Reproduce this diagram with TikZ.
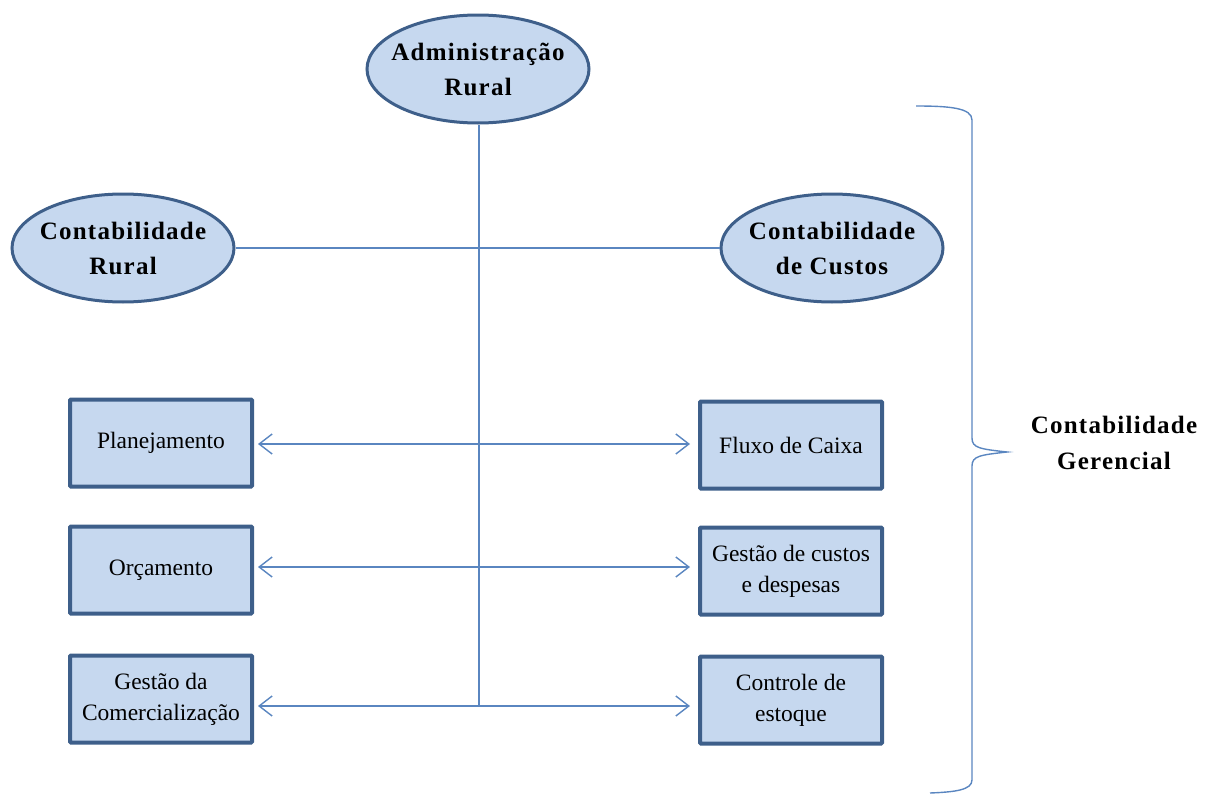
\documentclass[tikz,border=0pt]{standalone}
\usepackage{fontspec}
\setmainfont{Liberation Serif}
\usetikzlibrary{arrows.meta,shapes.geometric}
\definecolor{edge}{HTML}{3E5F8A}
\definecolor{fillblue}{HTML}{C6D8EF}
\definecolor{link}{HTML}{5A86C0}
\tikzset{
  topic/.style={ellipse, draw=edge, fill=fillblue, line width=3pt,
    minimum width=222pt, minimum height=108pt, inner xsep=-20pt, inner ysep=0pt,
    align=center,
    font=\fontsize{25}{35}\selectfont\bfseries\addfontfeature{LetterSpace=5}},
  task/.style={rectangle, draw=edge, fill=fillblue, line width=4pt,
    rounded corners=1pt, minimum width=182pt, minimum height=87pt,
    inner sep=0pt, align=center, font=\fontsize{23.5}{31}\selectfont},
  conn/.style={draw=link, line width=1.4pt},
  twoway/.style={conn, {Straight Barb[length=13pt,width=20pt]}-{Straight Barb[length=13pt,width=20pt]}},
  note/.style={align=center, font=\fontsize{25}{36}\selectfont\bfseries\addfontfeature{LetterSpace=5}}
}
\begin{document}
\begin{tikzpicture}[x=1pt,y=-1pt]
\useasboundingbox (0,0) rectangle (1211,795);

% main areas
\node[topic] (adm) at (478,69) {Administração\\Rural};
\node[topic] (crural) at (123,248) {Contabilidade\\Rural};
\node[topic] (ccustos) at (832,248) {Contabilidade\\de Custos};

% management tasks
\node[task] (plan) at (161,443) {Planejamento};
\node[task] (orc) at (161,570) {Orçamento};
\node[task] (comerc) at (161,699) {Gestão da\\Comercialização};
\node[task] (fluxo) at (791,445) {Fluxo de Caixa};
\node[task] (gcustos) at (791,571) {Gestão de custos\\e despesas};
\node[task] (estoque) at (791,700) {Controle de\\estoque};

% links
\coordinate (hub) at (479,706);
\draw[conn] (adm.south -| hub) -- (hub);
\draw[conn] (crural.east) -- (ccustos.west);
\draw[twoway] ([xshift=4pt,yshift=-1pt]plan.east) -- ([xshift=-8pt,yshift=-1pt]plan.east -| fluxo.west);
\draw[twoway] ([xshift=4pt,yshift=3pt]orc.east) -- ([xshift=-8pt,yshift=3pt]orc.east -| gcustos.west);
\draw[twoway] ([xshift=4pt]comerc.east |- hub) -- ([xshift=-8pt]hub -| estoque.west);

% brace grouping the management accounting block
\draw[conn] (916,106) .. controls (950,106) and (972,108) .. (972,120)
  -- (972,438) .. controls (972,448) and (980,449) .. (1007,452)
  .. controls (980,455) and (972,456) .. (972,466)
  -- (972,780) .. controls (972,790) and (955,792) .. (930,793);
\node[note] (gerencial) at (1114,443) {Contabilidade\\Gerencial};
\end{tikzpicture}
\end{document}
